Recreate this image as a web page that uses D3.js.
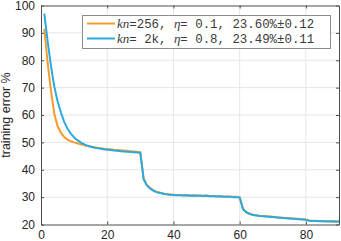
<!DOCTYPE html>
<html>
<head>
<meta charset="utf-8">
<script src="https://cdn.jsdelivr.net/npm/d3@7"></script>
<style>
  body { margin: 0; background: #fff; }
  svg { display: block; }
  .tick text { font-family: "Liberation Sans", Arial, sans-serif; font-size: 12px; fill: #262626; }
</style>
</head>
<body>
<div class="chart"></div>
<script>
// epochs 1..90
var epochs = d3.range(1, 91);

// kn=256, eta=0.1
var errSmall = [
  91.5, 79, 69, 60.5, 56, 53.5, 52, 51, 50.4, 50,
  49.7, 49.3, 49, 48.7, 48.5, 48.2, 48, 47.9, 47.7, 47.6,
  47.5, 47.3, 47.2, 47.1, 47, 46.9, 46.8, 46.7, 46.6, 46.4,
  36.8, 34.4, 33.3, 32.5, 31.9, 31.6, 31.3, 31.1, 31, 30.9,
  30.8, 30.8, 30.7, 30.8, 30.6, 30.7, 30.6, 30.6, 30.5, 30.6,
  30.4, 30.4, 30.3, 30.4, 30.2, 30.2, 30.2, 30.1, 30.1, 30,
  25.8, 24.6, 24, 23.6, 23.4, 23.2, 23.1, 23, 22.9, 22.8,
  22.7, 22.6, 22.5, 22.4, 22.3, 22.2, 22.1, 22, 21.9, 21.8,
  21.5, 21.4, 21.4, 21.3, 21.3, 21.3, 21.2, 21.3, 21.2, 21.2
];

// kn=2k, eta=0.8
var errLarge = [
  97, 87, 78, 70.5, 65, 61, 57.5, 55, 53.2, 51.8,
  50.8, 50, 49.3, 48.8, 48.4, 48.1, 47.9, 47.7, 47.5, 47.3,
  47.2, 47, 46.9, 46.8, 46.7, 46.6, 46.5, 46.4, 46.3, 46.2,
  36.5, 34.2, 33.1, 32.3, 31.8, 31.5, 31.2, 31, 30.9, 30.8,
  30.7, 30.7, 30.6, 30.7, 30.5, 30.6, 30.5, 30.5, 30.4, 30.5,
  30.3, 30.3, 30.2, 30.3, 30.1, 30.1, 30.1, 30, 30, 29.9,
  25.6, 24.4, 23.8, 23.5, 23.3, 23.1, 23, 22.9, 22.8, 22.7,
  22.6, 22.5, 22.4, 22.3, 22.2, 22.1, 22, 21.9, 21.8, 21.7,
  21.4, 21.3, 21.3, 21.2, 21.2, 21.1, 21.1, 21.1, 21, 21
];

var xTicks = [0, 20, 40, 60, 80];
var yTicks = [20, 30, 40, 50, 60, 70, 80, 90, 100];
var seriesNames = ["256", " 2k"];
var etaValues = ["0.1", "0.8"];
var accText = ["23.60%\u00b10.12", "23.49%\u00b10.11"];
var colors = ["#f59a2c", "#2aaae3"];

var svgWidth = 341;
var svgHeight = 241;

var svg = d3.select(".chart")
  .append("svg")
  .attr("width", svgWidth)
  .attr("height", svgHeight);

var x = d3.scaleLinear().domain([0, 90]).range([41, 339]);
var y = d3.scaleLinear().domain([20, 100]).range([224.5, 5.5]);

// grid
svg.append("g")
  .selectAll("line.vg")
  .data(xTicks.slice(1))
  .enter()
  .append("line")
  .attr("x1", d => x(d)).attr("x2", d => x(d))
  .attr("y1", y(20)).attr("y2", y(100))
  .attr("stroke", "#e6e6e6");

svg.append("g")
  .selectAll("line.hg")
  .data(yTicks.slice(1, -1))
  .enter()
  .append("line")
  .attr("x1", x(0)).attr("x2", x(90))
  .attr("y1", d => y(d)).attr("y2", d => y(d))
  .attr("stroke", "#e6e6e6");

// axes (ticks inside, on all four sides)
function styleAxis(g) {
  g.select(".domain").attr("stroke", "#4d4d4d");
  g.selectAll(".tick line").attr("stroke", "#4d4d4d");
}

svg.append("g")
  .attr("transform", `translate(0, ${y(20)})`)
  .call(d3.axisBottom(x).tickValues(xTicks).tickSizeInner(-3).tickSizeOuter(0).tickPadding(6))
  .call(styleAxis);

svg.append("g")
  .attr("transform", `translate(0, ${y(100)})`)
  .call(d3.axisTop(x).tickValues(xTicks).tickSizeInner(-3).tickSizeOuter(0).tickFormat(""))
  .call(styleAxis);

svg.append("g")
  .attr("transform", `translate(${x(0)}, 0)`)
  .call(d3.axisLeft(y).tickValues(yTicks).tickSizeInner(-3).tickSizeOuter(0).tickPadding(6))
  .call(styleAxis);

svg.append("g")
  .attr("transform", `translate(${x(90)}, 0)`)
  .call(d3.axisRight(y).tickValues(yTicks).tickSizeInner(-3).tickSizeOuter(0).tickFormat(""))
  .call(styleAxis);

// lines
var line = d3.line()
  .x((d, i) => x(epochs[i]))
  .y(d => y(d));

[errSmall, errLarge].forEach(function(series, i) {
  svg.append("path")
    .datum(series)
    .attr("fill", "none")
    .attr("stroke", colors[i])
    .attr("stroke-width", 2)
    .attr("stroke-linejoin", "round")
    .attr("d", line);
});

// y label
svg.append("text")
  .attr("transform", `translate(10, ${(y(20) + y(100)) / 2}) rotate(-90)`)
  .attr("text-anchor", "middle")
  .attr("font-family", "Liberation Sans, Arial, sans-serif")
  .attr("font-size", 12.5)
  .attr("fill", "#262626")
  .text("training error %");

// legend
var legend = svg.append("g");
legend.append("rect")
  .attr("x", 82.5).attr("y", 15.5)
  .attr("width", 248).attr("height", 33)
  .attr("fill", "#fff")
  .attr("stroke", "#8c8c8c");

seriesNames.forEach(function(name, i) {
  var ly = 23.5 + i * 15;
  legend.append("line")
    .attr("x1", 87).attr("x2", 115)
    .attr("y1", ly).attr("y2", ly)
    .attr("stroke", colors[i])
    .attr("stroke-width", 2);
  var t = legend.append("text")
    .attr("x", 117).attr("y", ly + 4)
    .attr("font-family", "Liberation Mono, Courier New, monospace")
    .attr("font-size", 12.4)
    .attr("fill", "#3a3a3a")
    .attr("xml:space", "preserve");
  t.append("tspan").attr("font-style", "italic").attr("font-family", "Liberation Serif, serif").attr("font-size", 13).text("kn");
  t.append("tspan").text("=" + name + ", ");
  t.append("tspan").attr("font-style", "italic").attr("font-family", "Liberation Serif, serif").attr("font-size", 13).text("\u03b7");
  t.append("tspan").text("= " + etaValues[i] + ", " + accText[i]);
});
</script>
</body>
</html>
